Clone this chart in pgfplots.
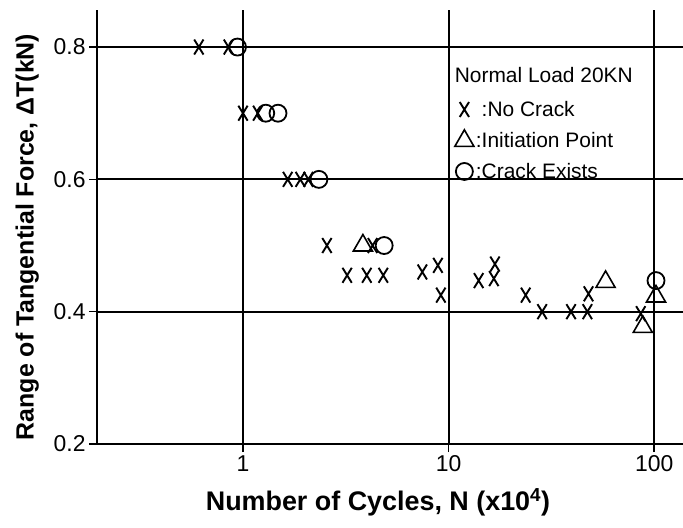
\documentclass[border=0pt]{standalone}
\usepackage{pgfplots}
\pgfplotsset{compat=1.18}
\usepackage{fontspec}
\setmainfont{Liberation Sans}
\begin{document}
\begin{tikzpicture}
\begin{axis}[
 scale only axis, width=586bp, height=434bp,
 xmode=log, xmin=0.195, xmax=138, ymin=0.2, ymax=0.856,
 axis x line=bottom, axis y line=left,
 axis line style={-, line width=2.2bp},
 xtick={1,10,100}, xticklabels={1,10,100},
 ytick={0.2,0.4,0.6,0.8}, yticklabels={0.2,0.4,0.6,0.8},
 xminorticks=false,
 xmajorgrids, ymajorgrids, grid style={black, line width=1.8bp},
 tick style={black, line width=1.5bp}, major tick length=8bp, tick align=outside,
 ticklabel style={font=\fontsize{23}{26}\selectfont},
 xlabel={Number of Cycles, N (x10\textsuperscript{4})},
 ylabel={Range of Tangential Force, ΔT(kN)},
 xlabel style={font=\bfseries\fontsize{27}{30}\selectfont, yshift=-10bp, xshift=-12bp},
 ylabel style={font=\bfseries\fontsize{25}{28}\selectfont, yshift=8bp, xshift=-10bp},
 legend style={draw=none, fill=none, at={(axis cs:10.7,0.7215)}, anchor=north west,
   font=\fontsize{21}{24}\selectfont, row sep=10bp, inner sep=0pt},
 legend cell align=left,
]
\addplot[only marks, mark=x, mark size=10.6bp, line width=1.9bp, mark options={xscale=0.62, line width=1.9bp}] coordinates {
(0.61,0.8) (0.85,0.8) (1.0,0.7) (1.18,0.7) (1.65,0.6) (1.9,0.6) (2.08,0.6)
(2.56,0.5) (4.27,0.5) (3.21,0.455) (4.0,0.455) (4.81,0.455)
(7.45,0.46) (8.87,0.47) (9.17,0.425) (14.0,0.447) (16.6,0.45) (16.8,0.472)
(23.7,0.425) (28.5,0.4) (39.4,0.4) (47.3,0.4) (47.9,0.427) (86,0.397)
};
\addlegendentry{\ :No Crack}
\addplot[only marks, mark=triangle, mark size=11bp, line width=1.6bp, mark options={line width=1.6bp}] coordinates {
(3.83,0.5) (58,0.445) (102,0.423) (88,0.377)
};
\addlegendentry{:Initiation Point}
\addplot[only marks, mark=o, mark size=8.5bp, line width=1.8bp, mark options={line width=1.8bp}] coordinates {
(0.94,0.8) (1.29,0.7) (1.48,0.7) (2.34,0.6) (4.86,0.5) (102,0.447)
};
\addlegendentry{:Crack Exists}
\node[anchor=west, inner sep=0pt, font=\fontsize{21}{24}\selectfont] at (axis cs:10.7,0.758) {Normal Load 20KN};
\end{axis}
\pgfresetboundingbox
\path[use as bounding box] ([xshift=-97bp,yshift=-84bp]current axis.south west) rectangle ([yshift=10bp]current axis.north east);
\end{tikzpicture}
\end{document}
